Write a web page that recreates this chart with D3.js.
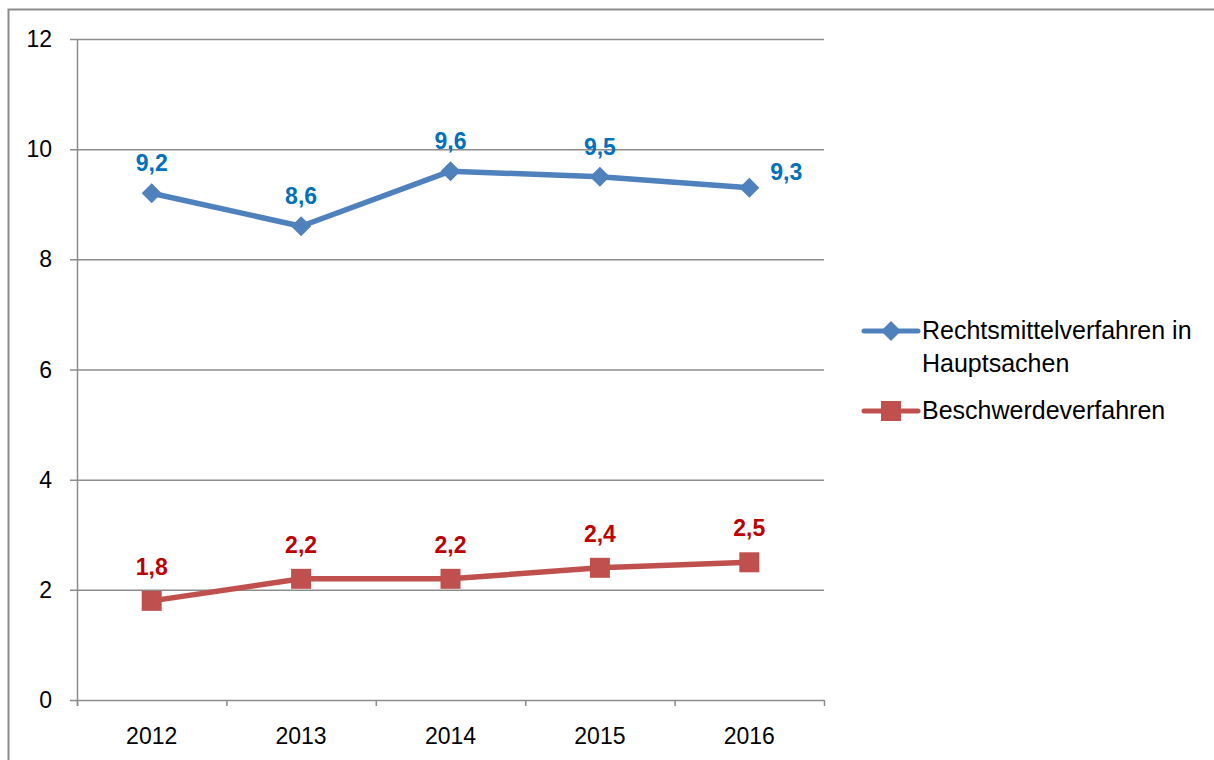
<!DOCTYPE html>
<html>
<head>
<meta charset="utf-8">
<script src="https://cdn.jsdelivr.net/npm/d3@7"></script>
<style>
  body { margin: 0; background: #fff; }
  svg { font-family: "Liberation Sans", "DejaVu Sans", sans-serif; }
</style>
</head>
<body>
<svg id="chart" width="1214" height="760"></svg>
<script>
var years = ["2012", "2013", "2014", "2015", "2016"];
var rechtsmittel = [9.2, 8.6, 9.6, 9.5, 9.3];
var beschwerde = [1.8, 2.2, 2.2, 2.4, 2.5];
var yTicks = [0, 2, 4, 6, 8, 10, 12];

var series = [
    {name: ["Rechtsmittelverfahren in", "Hauptsachen"], values: rechtsmittel, color: "#4F81BD", label: "#0070C0", shape: "diamond"},
    {name: ["Beschwerdeverfahren"], values: beschwerde, color: "#C0504D", label: "#C00000", shape: "square"}
];

var svg = d3.select("#chart");

// outer frame
svg.append("rect")
    .attr("x", 8.5).attr("y", 9.5)
    .attr("width", 1300).attr("height", 900)
    .attr("fill", "none").attr("stroke", "#8c8c8c").attr("stroke-width", 2);

var plotL = 77, plotR = 824, plotT = 39, plotB = 700;

var x = d3.scaleBand().domain(years).range([plotL, plotR]);
var y = d3.scaleLinear().domain([0, 12]).range([plotB, plotT]);

// gridlines
svg.append("g").selectAll("line")
    .data(yTicks)
    .enter().append("line")
    .attr("x1", plotL - 7).attr("x2", plotR)
    .attr("y1", d => y(d) + 0.5).attr("y2", d => y(d) + 0.5)
    .attr("stroke", "#8c8c8c").attr("stroke-width", 1.5);

// y axis line
svg.append("line")
    .attr("x1", plotL + 0.5).attr("x2", plotL + 0.5)
    .attr("y1", plotT).attr("y2", plotB + 6)
    .attr("stroke", "#8c8c8c").attr("stroke-width", 1.5);

// x tick marks
var xb = years.map(d => x(d)).concat([plotR]);
svg.append("g").selectAll("line")
    .data(xb)
    .enter().append("line")
    .attr("x1", d => d + 0.5).attr("x2", d => d + 0.5)
    .attr("y1", plotB).attr("y2", plotB + 6)
    .attr("stroke", "#8c8c8c").attr("stroke-width", 1.5);

// y labels
svg.append("g").selectAll("text")
    .data(yTicks)
    .enter().append("text")
    .attr("x", 52).attr("y", d => y(d) + 8)
    .attr("text-anchor", "end")
    .attr("font-size", 23)
    .text(d => d);

// x labels
svg.append("g").selectAll("text")
    .data(years)
    .enter().append("text")
    .attr("x", d => x(d) + x.bandwidth() / 2).attr("y", 744)
    .attr("text-anchor", "middle")
    .attr("font-size", 23)
    .text(d => d);

var line = d3.line()
    .x((d, i) => x(years[i]) + x.bandwidth() / 2)
    .y(d => y(d));

function marker(g, shape, color, cx, cy) {
    if (shape === "diamond") {
        g.append("path")
            .attr("d", "M" + cx + "," + (cy - 10) + "L" + (cx + 10) + "," + cy + "L" + cx + "," + (cy + 10) + "L" + (cx - 10) + "," + cy + "Z")
            .attr("fill", color);
    } else {
        g.append("rect")
            .attr("x", cx - 10).attr("y", cy - 10)
            .attr("width", 20).attr("height", 20)
            .attr("fill", color);
    }
}

series.forEach(function(s) {
    var g = svg.append("g");
    g.append("path")
        .attr("d", line(s.values))
        .attr("fill", "none")
        .attr("stroke", s.color)
        .attr("stroke-width", 5.5)
        .attr("stroke-linejoin", "round");
    s.values.forEach(function(v, i) {
        var cx = x(years[i]) + x.bandwidth() / 2;
        marker(g, s.shape, s.color, cx, y(v));
        var lx = cx, ly = y(v) - 22;
        if (s.shape === "diamond" && i === years.length - 1) { lx = cx + 37; ly = y(v) - 8; }
        if (s.shape === "square") ly = y(v) - 26;
        g.append("text")
            .attr("x", lx).attr("y", ly)
            .attr("text-anchor", "middle")
            .attr("font-size", 23)
            .attr("font-weight", "bold")
            .attr("fill", s.label)
            .text(String(v).replace(".", ","));
    });
});

// legend
var legY = [331, 411];
series.forEach(function(s, k) {
    var g = svg.append("g");
    g.append("line")
        .attr("x1", 864).attr("x2", 918)
        .attr("y1", legY[k]).attr("y2", legY[k])
        .attr("stroke", s.color).attr("stroke-width", 5)
        .attr("stroke-linecap", "round");
    marker(g, s.shape, s.color, 891, legY[k]);
    s.name.forEach(function(t, j) {
        g.append("text")
            .attr("x", 922).attr("y", legY[k] + 8 + j * 33)
            .attr("font-size", 25)
            .text(t);
    });
});
</script>
</body>
</html>
